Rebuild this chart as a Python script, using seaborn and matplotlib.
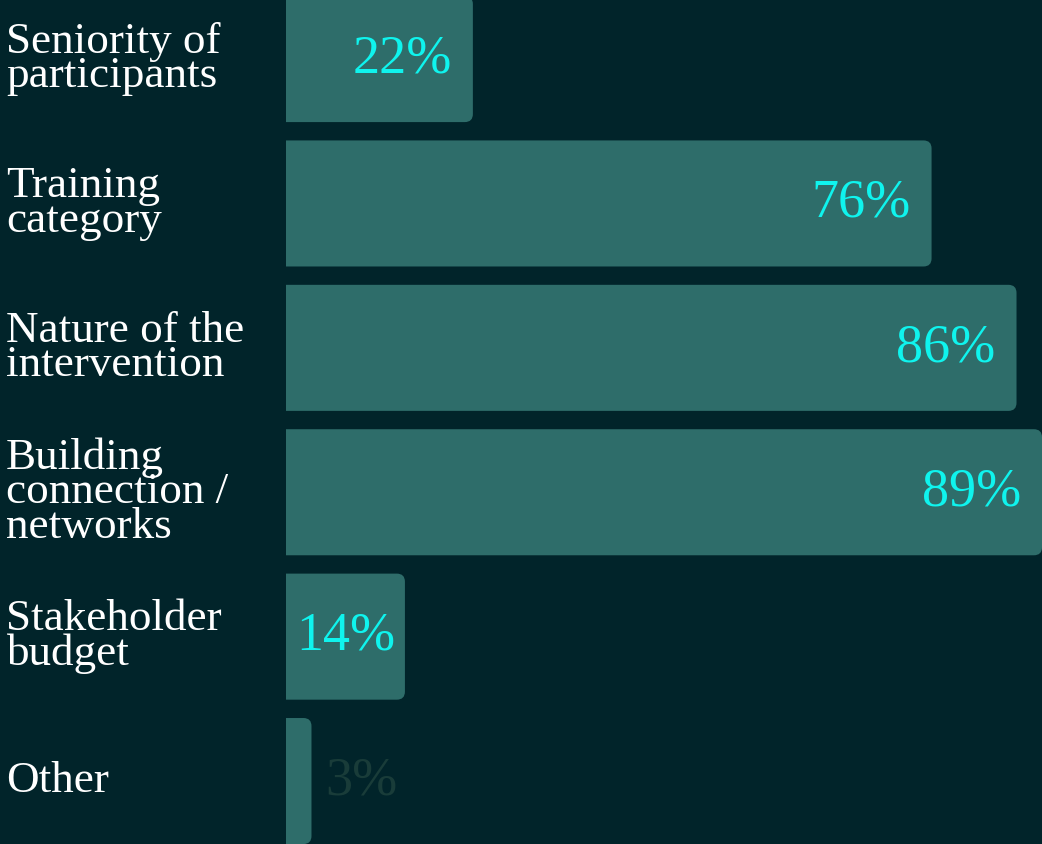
import matplotlib
matplotlib.use("Agg")
import matplotlib.pyplot as plt
import matplotlib.transforms as mtransforms
from matplotlib.patches import FancyBboxPatch
import seaborn as sns

# Chart data
categories = [
    "Seniority of\nparticipants",
    "Training\ncategory",
    "Nature of the\nintervention",
    "Building\nconnection /\nnetworks",
    "Stakeholder\nbudget",
    "Other",
]
values = [22, 76, 86, 89, 14, 3]

BG = "#01242a"
BAR = "#2e6d6a"
CYAN = "#0ff4ee"
DIM = "#193c39"

sns.set_style("white")
plt.rcParams["font.family"] = ["Liberation Serif", "DejaVu Serif"]

fig = plt.figure(figsize=(10.42, 8.44), dpi=100, facecolor=BG)
ax = fig.add_axes([286 / 1042, 0, 756 / 1042, 1])
ax.set_facecolor(BG)

sns.barplot(x=values, y=categories, orient="h", color=BAR, width=0.873,
            saturation=1, ax=ax)

ax.set_xlim(0, 89)
ax.set_ylim(5.436, -0.409)
ax.set_axis_off()

# swap plain bars for bars with rounded right corners
for p in list(ax.patches):
    x0, y0, w, h = p.get_x(), p.get_y(), p.get_width(), p.get_height()
    rb = FancyBboxPatch((x0 - 3, y0), w + 3, h,
                        boxstyle="round,pad=0,rounding_size=0.95",
                        mutation_aspect=0.0588, fc=BAR, ec="none")
    p.remove()
    ax.add_patch(rb)

# category labels on the left
trans = mtransforms.blended_transform_factory(fig.transFigure, ax.transData)
for i, cat in enumerate(categories):
    ax.text(6 / 1042, i, cat, transform=trans, ha="left", va="center",
            color="white", fontsize=32.5, linespacing=0.82, clip_on=False)

# value labels: inside the bar end, centred on short bars, outside on tiny ones
for i, v in enumerate(values):
    if v >= 20:
        ax.annotate(f"{v}%", xy=(v, i), xytext=(-15, 0),
                    textcoords="offset points", ha="right", va="center",
                    color=CYAN, fontsize=39)
    elif v >= 10:
        ax.annotate(f"{v}%", xy=(v / 2, i), ha="center", va="center",
                    color=CYAN, fontsize=39)
    else:
        ax.annotate(f"{v}%", xy=(v, i), xytext=(10, 0),
                    textcoords="offset points", ha="left", va="center",
                    color=DIM, fontsize=39)

fig.savefig("out.png", facecolor=BG)
